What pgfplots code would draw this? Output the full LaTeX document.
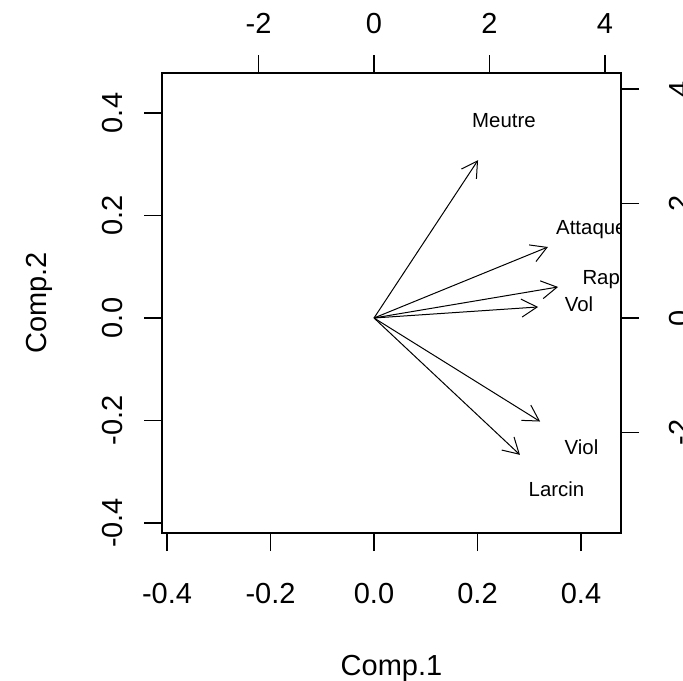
\documentclass[border=0pt]{standalone}
\usepackage{fontspec}
\setmainfont{Liberation Sans}
\usepackage{pgfplots}
\usepackage{pgfplotstable}
\pgfplotsset{compat=1.18}
\usetikzlibrary{arrows.meta}
\newcommand{\tickfont}{\fontsize{14.5}{17}\selectfont}
\newcommand{\labfont}{\fontsize{10.2}{12}\selectfont}

% label positions (arrow tips are at 0.8 of these)
\pgfplotstableread{
x       y        label
0.251   0.385    Meutre
0.420   0.173    Attaque
0.4445  0.0756   Rapt
0.396   0.0269   Vol
0.401  -0.2525   Viol
0.3525 -0.334    Larcin
}\loadlabels

\begin{document}
\begin{tikzpicture}
\useasboundingbox (0,0) rectangle (341.5pt,340pt);
\pgfplotsset{
  common/.style={
    at={(81pt,73.5pt)}, anchor=south west,
    scale only axis, width=229.5pt, height=230pt,
    tick align=outside, major tick length=9pt,
    every tick/.style={black, line width=0.6pt},
    axis line style={line width=0.6pt},
    tick label style={font=\tickfont},
  }
}
% secondary axes (top / right)
\begin{axis}[common,
  xmin=-3.671, xmax=4.277, ymin=-3.755, ymax=4.28,
  xtick={-2,0,2,4}, ytick={-2,0,2,4},
  xticklabels={-2,0,2,4}, yticklabels={-2,0,2,4},
  xtick pos=right, ytick pos=right,
  xticklabel pos=right, yticklabel pos=right,
  xticklabel style={anchor=base}, xticklabel shift=11pt,
  yticklabel style={rotate=90, anchor=base}, yticklabel shift=25pt,
]
\end{axis}
% primary axes (bottom / left)
\begin{axis}[common,
  xmin=-0.4097, xmax=0.4773, ymin=-0.4195, ymax=0.478,
  xtick={-0.4,-0.2,0,0.2,0.4}, ytick={-0.4,-0.2,0,0.2,0.4},
  xticklabels={-0.4,-0.2,0.0,0.2,0.4}, yticklabels={-0.4,-0.2,0.0,0.2,0.4},
  xtick pos=left, ytick pos=left,
  xticklabel style={anchor=base}, xticklabel shift=26pt,
  yticklabel style={rotate=90, anchor=base}, yticklabel shift=11pt,
  xlabel={Comp.1}, ylabel={Comp.2},
  xlabel style={font=\tickfont, at={(axis description cs:0.5,-0.3087)}, anchor=base},
  ylabel style={font=\tickfont, at={(axis description cs:-0.2527,0.5)}, anchor=base},
  clip mode=individual, clip marker paths=true,
]
\addplot[black, line width=0.5pt, -{Straight Barb[length=7.8pt,width=9pt]}] coordinates {(0,0) (0.201,0.308)};
\addplot[black, line width=0.5pt, -{Straight Barb[length=7.8pt,width=9pt]}] coordinates {(0,0) (0.336,0.1385)};
\addplot[black, line width=0.5pt, -{Straight Barb[length=7.8pt,width=9pt]}] coordinates {(0,0) (0.3556,0.0605)};
\addplot[black, line width=0.5pt, -{Straight Barb[length=7.8pt,width=9pt]}] coordinates {(0,0) (0.317,0.0215)};
\addplot[black, line width=0.5pt, -{Straight Barb[length=7.8pt,width=9pt]}] coordinates {(0,0) (0.321,-0.202)};
\addplot[black, line width=0.5pt, -{Straight Barb[length=7.8pt,width=9pt]}] coordinates {(0,0) (0.282,-0.267)};
\addplot[draw=none, mark=none, nodes near coords, point meta=explicit symbolic,
  nodes near coords style={anchor=center, font=\labfont, black, inner sep=0pt}]
  table[x=x, y=y, meta=label] {\loadlabels};
\end{axis}
\end{tikzpicture}
\end{document}
